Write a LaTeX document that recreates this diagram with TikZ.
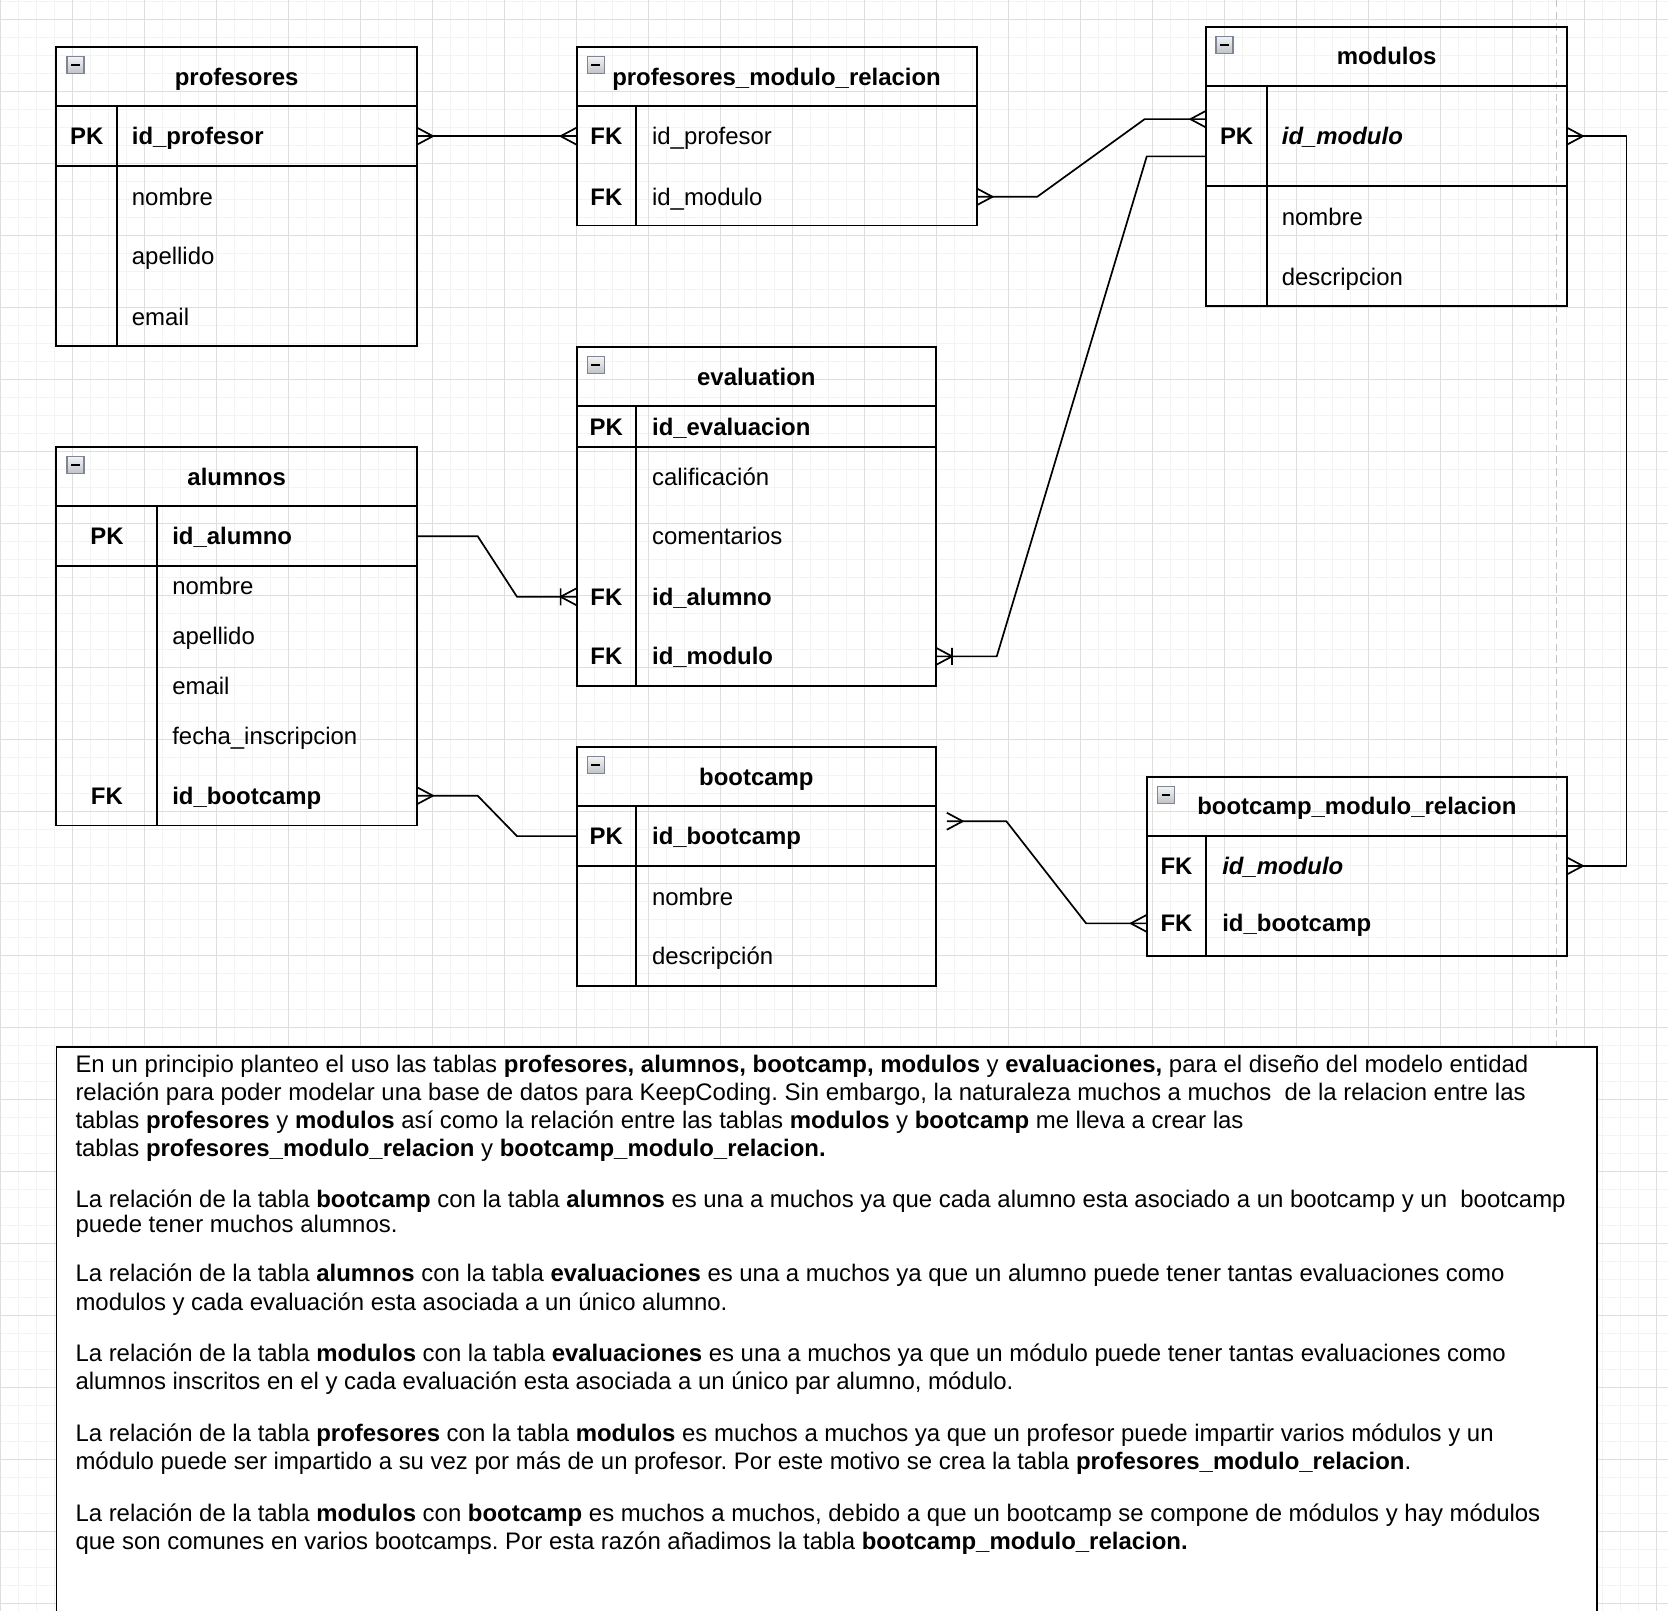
\documentclass[tikz,border=0pt]{standalone}
\usepackage{fontspec}
\setmainfont{Liberation Sans}
\usetikzlibrary{arrows.meta}
\frenchspacing

% ER "many" end: three prongs fanning out onto the table edge
\pgfdeclarearrow{
  name = Crow,
  setup code = {
    \pgfarrowssettipend{0pt}
    \pgfarrowssetlineend{0pt}
    \pgfarrowssetbackend{-15pt}
    \pgfarrowssetvisualbackend{-15pt}
    \pgfarrowshullpoint{0pt}{8pt}
    \pgfarrowshullpoint{0pt}{-8pt}
    \pgfarrowshullpoint{-15pt}{0pt}
  },
  drawing code = {
    \pgfsetdash{}{0pt}
    \pgfsetroundjoin
    \pgfpathmoveto{\pgfqpoint{0pt}{8pt}}
    \pgfpathlineto{\pgfqpoint{-15pt}{0pt}}
    \pgfpathlineto{\pgfqpoint{0pt}{-8pt}}
    \pgfusepathqstroke
  }
}

% ER "one to many" end: crow's foot plus a bar
\pgfdeclarearrow{
  name = CrowBar,
  setup code = {
    \pgfarrowssettipend{0pt}
    \pgfarrowssetlineend{0pt}
    \pgfarrowssetbackend{-15pt}
    \pgfarrowssetvisualbackend{-15pt}
    \pgfarrowshullpoint{0pt}{8pt}
    \pgfarrowshullpoint{0pt}{-8pt}
    \pgfarrowshullpoint{-15pt}{8pt}
    \pgfarrowshullpoint{-15pt}{-8pt}
  },
  drawing code = {
    \pgfsetdash{}{0pt}
    \pgfsetroundjoin
    \pgfpathmoveto{\pgfqpoint{0pt}{8pt}}
    \pgfpathlineto{\pgfqpoint{-15pt}{0pt}}
    \pgfpathlineto{\pgfqpoint{0pt}{-8pt}}
    \pgfpathmoveto{\pgfqpoint{-15pt}{8pt}}
    \pgfpathlineto{\pgfqpoint{-15pt}{-8pt}}
    \pgfusepathqstroke
  }
}

\definecolor{gridminor}{HTML}{F3F3F3}
\definecolor{gridmajor}{HTML}{DEDEDE}
\definecolor{pagebreak}{HTML}{C4C4C4}
\definecolor{iconedge}{HTML}{7E8594}
\definecolor{icontop}{HTML}{F4F4F4}
\definecolor{iconbot}{HTML}{BFC2C7}

\tikzset{
  tbl/.style={draw=black, line width=1.8pt, anchor=north west, inner sep=0pt, outer sep=0pt},
  sep/.style={draw=black, line width=1.8pt},
  txt/.style={font=\fontsize{22.5}{26.5}\selectfont, inner sep=0pt, outer sep=0pt,
              text height=18.5pt, text depth=2.5pt},
  fld/.style={txt, anchor=west},
  bfld/.style={fld, font=\fontsize{22.5}{26.5}\selectfont\bfseries},
  bifld/.style={fld, font=\fontsize{22.5}{26.5}\selectfont\bfseries\itshape},
  key/.style={txt, anchor=center, font=\fontsize{22.5}{26.5}\selectfont\bfseries},
  ttl/.style={key},
  para/.style={anchor=base west, inner sep=0pt, outer sep=0pt,
               font=\fontsize{22.5}{26.5}\selectfont},
  conn/.style={draw=black, line width=1.6pt, line join=round},
  collapse/.pic={
    \shade[top color=icontop, bottom color=iconbot] (0,0) rectangle (16,16);
    \draw[iconedge, line width=1.2pt] (0,0) rectangle (16,16);
    \draw[black, line width=2pt] (4,8) -- (12,8);
  },
}

\begin{document}
\begin{tikzpicture}[x=1pt, y=-1pt]
\path[use as bounding box] (0,0) rectangle (1568,1513.5);
\clip (0,0) rectangle (1568,1513.5);
\fill[white] (0,0) rectangle (1568,1513.5);

% background grid
\foreach \i in {0,...,92} \draw[gridminor, line width=0.9pt] ({0.9+16.92*\i},0) -- ++(0,1514);
\foreach \j in {0,...,89} \draw[gridminor, line width=0.9pt] (0,{0.98+16.92*\j}) -- ++(1568,0);
\foreach \i in {0,...,23} \draw[gridmajor, line width=0.9pt] ({0.9+67.68*\i},0) -- ++(0,1514);
\foreach \j in {0,...,22} \draw[gridmajor, line width=0.9pt] (0,{17.9+67.68*\j}) -- ++(1568,0);

% page break
\draw[pagebreak, line width=1.2pt, dash pattern=on 7pt off 4pt] (1463,0) -- (1463,984);

% ---------- profesores
\node[tbl, minimum width=339pt, minimum height=281pt] (prof) at (53,44) {};
\draw[sep] (53,100) -- (392,100);
\draw[sep] (53,156) -- (392,156);
\draw[sep] (110,100) -- (110,325);
\pic at (63,53) {collapse};
\node[ttl] (prof-t) at (222.5,72) {profesores};
\node[key] (prof-k1) at (81.5,128) {PK};
\node[bfld] (prof-f1) at (124,128) {id\_profesor};
\node[fld] (prof-f2) at (124,185) {nombre};
\node[fld] (prof-f3) at (124,241) {apellido};
\node[fld] (prof-f4) at (124,298) {email};

% ---------- profesores_modulo_relacion
\node[tbl, minimum width=376pt, minimum height=168pt] (pmr) at (542,44) {};
\draw[sep] (542,100) -- (918,100);
\draw[sep] (598,100) -- (598,212);
\pic at (552,53) {collapse};
\node[ttl] (pmr-t) at (730,72) {profesores\_modulo\_relacion};
\node[key] (pmr-k1) at (570,128) {FK};
\node[fld] (pmr-f1) at (613,128) {id\_profesor};
\node[key] (pmr-k2) at (570,185) {FK};
\node[fld] (pmr-f2) at (613,185) {id\_modulo};

% ---------- modulos
\node[tbl, minimum width=339pt, minimum height=263pt] (mod) at (1134,25) {};
\draw[sep] (1134,81) -- (1473,81);
\draw[sep] (1134,175) -- (1473,175);
\draw[sep] (1191,81) -- (1191,288);
\pic at (1143,34) {collapse};
\node[ttl] (mod-t) at (1303.5,53) {modulos};
\node[key] (mod-k1) at (1162.5,128) {PK};
\node[bifld] (mod-f1) at (1205,128) {id\_modulo};
\node[fld] (mod-f2) at (1205,204) {nombre};
\node[fld] (mod-f3) at (1205,260) {descripcion};

% ---------- evaluation
\node[tbl, minimum width=338pt, minimum height=319pt] (ev) at (542,326) {};
\draw[sep] (542,382) -- (880,382);
\draw[sep] (542,420) -- (880,420);
\draw[sep] (598,382) -- (598,645);
\pic at (552,335) {collapse};
\node[ttl] (ev-t) at (711,354) {evaluation};
\node[key] (ev-k1) at (570,401) {PK};
\node[bfld] (ev-f1) at (613,401) {id\_evaluacion};
\node[fld] (ev-f2) at (613,448) {calificación};
\node[fld] (ev-f3) at (613,504) {comentarios};
\node[key] (ev-k4) at (570,561) {FK};
\node[bfld] (ev-f4) at (613,561) {id\_alumno};
\node[key] (ev-k5) at (570,617) {FK};
\node[bfld] (ev-f5) at (613,617) {id\_modulo};

% ---------- alumnos
\node[tbl, minimum width=339pt, minimum height=356pt] (alu) at (53,420) {};
\draw[sep] (53,476) -- (392,476);
\draw[sep] (53,532) -- (392,532);
\draw[sep] (148,476) -- (148,776);
\pic at (63,429) {collapse};
\node[ttl] (alu-t) at (222.5,448) {alumnos};
\node[key] (alu-k1) at (100.5,504) {PK};
\node[bfld] (alu-f1) at (162,504) {id\_alumno};
\node[fld] (alu-f2) at (162,551) {nombre};
\node[fld] (alu-f3) at (162,598) {apellido};
\node[fld] (alu-f4) at (162,645) {email};
\node[fld] (alu-f5) at (162,692) {fecha\_inscripcion};
\node[key] (alu-k6) at (100.5,748) {FK};
\node[bfld] (alu-f6) at (162,748) {id\_bootcamp};

% ---------- bootcamp
\node[tbl, minimum width=338pt, minimum height=225pt] (boot) at (542,702) {};
\draw[sep] (542,758) -- (880,758);
\draw[sep] (542,814) -- (880,814);
\draw[sep] (598,758) -- (598,927);
\pic at (552,711) {collapse};
\node[ttl] (boot-t) at (711,730) {bootcamp};
\node[key] (boot-k1) at (570,786) {PK};
\node[bfld] (boot-f1) at (613,786) {id\_bootcamp};
\node[fld] (boot-f2) at (613,843) {nombre};
\node[fld] (boot-f3) at (613,899) {descripción};

% ---------- bootcamp_modulo_relacion
\node[tbl, minimum width=395pt, minimum height=169pt] (bmr) at (1078,730) {};
\draw[sep] (1078,786) -- (1473,786);
\draw[sep] (1134,786) -- (1134,899);
\pic at (1088,739) {collapse};
\node[ttl] (bmr-t) at (1275.5,758) {bootcamp\_modulo\_relacion};
\node[key] (bmr-k1) at (1106,814) {FK};
\node[bifld] (bmr-f1) at (1149,814) {id\_modulo};
\node[key] (bmr-k2) at (1106,868) {FK};
\node[bfld] (bmr-f2) at (1149,868) {id\_bootcamp};

% ---------- relationships
\draw[conn, Crow-Crow] (prof.east |- prof-f1) -- (pmr.west |- pmr-f1);
\draw[conn, Crow-Crow] (pmr.east |- pmr-f2) -- ++(57,0)
  -- ([xshift=-58pt,yshift=-87pt]mod.north west) -- ([yshift=-87pt]mod.north west);
\draw[conn, CrowBar-] (ev.east |- ev-f5) -- ++(57,0)
  -- ([xshift=-56pt,yshift=-122pt]mod.north west) -- ([yshift=-122pt]mod.north west);
\draw[conn, -CrowBar] (alu.east |- alu-f1) -- ++(57,0)
  -- ([xshift=-56pt]ev.west |- ev-f4) -- (ev.west |- ev-f4);
\draw[conn, Crow-] (alu.east |- alu-f6) -- ++(57,0)
  -- ([xshift=-56pt]boot.west |- boot-f1) -- (boot.west |- boot-f1);
\draw[conn, Crow-Crow] ([xshift=10pt,yshift=-70pt]boot.north east) -- ++(56,0)
  -- ([xshift=-57pt]bmr.west |- bmr-f2) -- (bmr.west |- bmr-f2);
\draw[conn, Crow-Crow] (mod.east |- mod-f1) -- ++(56,0) |- (bmr.east |- bmr-f1);

% ---------- explanatory note
\node[draw=black, fill=white, line width=1.6pt, anchor=north west, inner sep=0pt, outer sep=0pt,
      minimum width=1448pt, minimum height=600pt] (note) at (53,984) {};

\node[para] (p1) at (71,1008) {\begin{tabular}[t]{@{}l@{}}
En un principio planteo el uso las tablas \textbf{profesores, alumnos, bootcamp, modulos} y \textbf{evaluaciones,} para el diseño del modelo entidad\\
relación para poder modelar una base de datos para KeepCoding. Sin embargo, la naturaleza muchos a muchos\ \ de la relacion entre las\\
tablas \textbf{profesores} y \textbf{modulos} así como la relación entre las tablas \textbf{modulos} y \textbf{bootcamp} me lleva a crear las\\
tablas \textbf{profesores\_modulo\_relacion} y \textbf{bootcamp\_modulo\_relacion.}
\end{tabular}};

\node[para, font=\fontsize{22.5}{23}\selectfont] (p2) at (71,1135) {\begin{tabular}[t]{@{}l@{}}
La relación de la tabla \textbf{bootcamp} con la tabla \textbf{alumnos} es una a muchos ya que cada alumno esta asociado a un bootcamp y un\ \ bootcamp\\
puede tener muchos alumnos.
\end{tabular}};

\node[para] (p3) at (71,1205) {\begin{tabular}[t]{@{}l@{}}
La relación de la tabla \textbf{alumnos} con la tabla \textbf{evaluaciones} es una a muchos ya que un alumno puede tener tantas evaluaciones como\\
modulos y cada evaluación esta asociada a un único alumno.
\end{tabular}};

\node[para] (p4) at (71,1280) {\begin{tabular}[t]{@{}l@{}}
La relación de la tabla \textbf{modulos} con la tabla \textbf{evaluaciones} es una a muchos ya que un módulo puede tener tantas evaluaciones como\\
alumnos inscritos en el y cada evaluación esta asociada a un único par alumno, módulo.
\end{tabular}};

\node[para] (p5) at (71,1355) {\begin{tabular}[t]{@{}l@{}}
La relación de la tabla \textbf{profesores} con la tabla \textbf{modulos} es muchos a muchos ya que un profesor puede impartir varios módulos y un\\
módulo puede ser impartido a su vez por más de un profesor. Por este motivo se crea la tabla \textbf{profesores\_modulo\_relacion}.
\end{tabular}};

\node[para] (p6) at (71,1430) {\begin{tabular}[t]{@{}l@{}}
La relación de la tabla \textbf{modulos} con \textbf{bootcamp} es muchos a muchos, debido a que un bootcamp se compone de módulos y hay módulos\\
que son comunes en varios bootcamps. Por esta razón añadimos la tabla \textbf{bootcamp\_modulo\_relacion.}
\end{tabular}};
\end{tikzpicture}
\end{document}
